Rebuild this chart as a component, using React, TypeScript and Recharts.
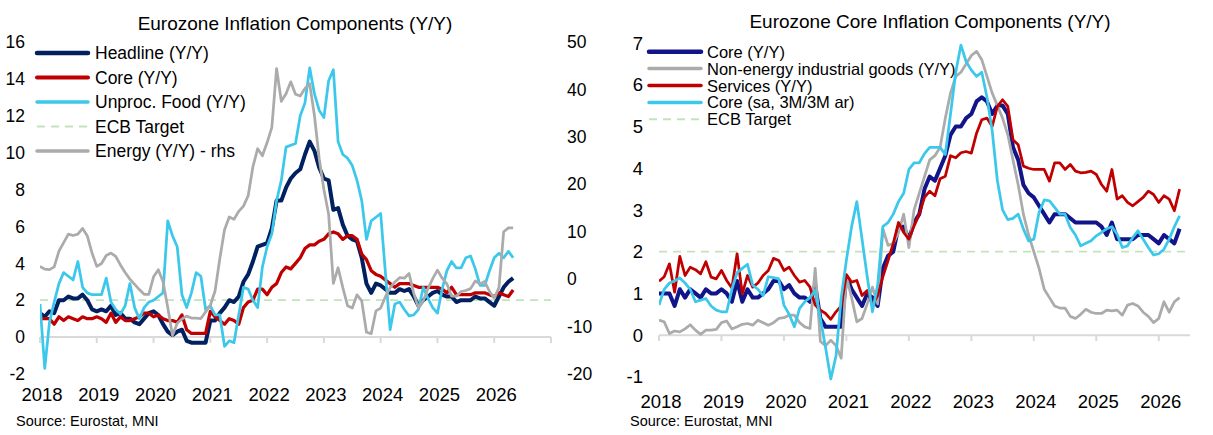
import React from 'react'
import { LineChart, Line, XAxis, YAxis, ReferenceLine, Legend } from 'recharts'

// monthly, Jan 2018 .. May 2026
const headline = [
  1.3, 1.1, 1.4, 1.3, 2.0, 2.0, 2.2, 2.1, 2.1, 2.3, 2.0, 1.5,
  1.4, 1.5, 1.4, 1.7, 1.2, 1.3, 1.0, 1.0, 0.8, 0.7, 1.0, 1.3,
  1.4, 1.2, 0.7, 0.3, 0.1, 0.3, 0.4, -0.2, -0.3, -0.3, -0.3, -0.3,
  0.9, 0.9, 1.3, 1.6, 2.0, 1.9, 2.2, 3.0, 3.4, 4.1, 4.9, 5.0,
  5.1, 5.9, 7.4, 7.4, 8.1, 8.6, 8.9, 9.1, 9.9, 10.6, 10.1, 9.2,
  8.6, 8.5, 6.9, 7.0, 6.1, 5.5, 5.3, 5.2, 4.3, 2.9, 2.4, 2.9,
  2.8, 2.6, 2.4, 2.4, 2.6, 2.5, 2.6, 2.2, 1.7, 2.0, 2.2, 2.4,
  2.5, 2.3, 2.2, 2.2, 1.9, 2.0, 2.0, 2.0, 2.2, 2.1, 2.1, 1.9,
  1.7, 2.2, 2.7, 3.0, 3.2,
]

const core = [
  1.0, 1.0, 1.0, 0.7, 1.1, 0.9, 1.1, 1.0, 0.9, 1.1, 1.0, 1.0,
  1.1, 1.0, 0.8, 1.3, 0.8, 1.1, 0.9, 0.9, 1.0, 1.1, 1.3, 1.3,
  1.1, 1.2, 1.0, 0.9, 0.9, 0.8, 1.2, 0.4, 0.2, 0.2, 0.2, 0.2,
  1.4, 1.1, 0.9, 0.7, 1.0, 0.9, 0.7, 1.6, 1.9, 2.0, 2.6, 2.6,
  2.3, 2.7, 2.9, 3.5, 3.8, 3.7, 4.0, 4.3, 4.8, 5.0, 5.0, 5.2,
  5.3, 5.6, 5.7, 5.6, 5.3, 5.5, 5.5, 5.3, 4.5, 4.2, 3.6, 3.4,
  3.3, 3.1, 2.9, 2.7, 2.9, 2.9, 2.9, 2.8, 2.7, 2.7, 2.7, 2.7,
  2.7, 2.6, 2.4, 2.7, 2.3, 2.3, 2.3, 2.3, 2.4, 2.4, 2.4, 2.3,
  2.2, 2.4, 2.3, 2.2, 2.55,
]

const unprocFood = [
  1.8, -1.7, 0.8, 1.9, 2.9, 3.5, 3.3, 3.1, 4.1, 2.7, 2.4, 2.3,
  2.3, 2.3, 3.2, 1.9, 1.5, 1.25, 1.7, 2.9, 1.6, 1.0, 1.6, 1.9,
  2.0, 2.2, 2.4, 6.3, 5.5, 4.9, 2.3, 1.6, 2.4, 3.5, 3.3, 1.5,
  1.7, 1.2, 1.2, -0.5, -0.2, -0.3, 1.2, 2.7, 2.6, 2.0, 1.6, 3.8,
  4.9, 5.6, 7.4, 8.5, 10.3, 10.4, 10.5, 12.0, 12.7, 14.6, 13.2, 12.3,
  11.9, 13.9, 14.5, 10.6, 9.9, 9.7, 9.3, 8.5, 7.4, 5.3, 6.3, 6.5,
  6.7, 3.5, 0.4, 1.8, 1.9, 1.5, 1.15, 1.2, 1.5, 2.7, 2.1, 1.6,
  1.3, 2.6, 3.6, 4.1, 3.75, 3.75, 4.3, 4.4, 3.7, 2.8, 2.8, 3.6,
  4.3, 4.55, 4.3, 4.65, 4.3,
]

const energy = [
  2.7, 2.1, 2.0, 2.6, 5.9, 7.7, 9.5, 9.2, 9.5, 10.7, 9.1, 5.5,
  2.7, 3.3, 5.0, 5.5, 4.8, 3.0, 1.4, 0.0, -1.1, -2.2, -3.2, -3.2,
  0.5, 2.0, -0.5, -6.0, -11.9, -9.3, -8.4, -7.8, -8.2, -8.2, -8.3, -6.9,
  -5.5, -2.5, 4.3, 10.4, 13.1, 12.6, 14.3, 15.4, 17.6, 23.7, 27.5, 26.0,
  28.8, 32.0, 44.4, 37.5, 39.1, 41.6, 39.0, 38.6, 40.2, 41.2, 34.5, 25.5,
  18.9, 13.7, -0.9, 2.4, -1.8, -5.6, -6.1, -3.3, -4.6, -11.2, -11.5, -6.7,
  -6.1, -3.7, -1.8, -0.6, 0.3, 0.2, 1.2, -3.0, -6.1, -4.6, -2.0, 0.1,
  1.9, 0.2, -1.0, -3.6, -3.6, -2.6, -2.4, -2.0, -0.4, -1.0, -0.5, -2.6,
  -4.0, -1.8, 10.0, 10.8, 10.8,
]

const neig = [
  0.36, 0.32, 0.04, 0.1, 0.08, 0.15, 0.25, 0.12, 0.02, 0.12, 0.12, 0.14,
  0.3, 0.34, 0.15, 0.2, 0.26, 0.28, 0.24, 0.36, 0.3, 0.24, 0.3, 0.4,
  0.42, 0.48, 0.48, 0.3, 0.2, 0.16, 1.6, -0.15, -0.25, -0.12, -0.25, -0.55,
  1.4, 0.9, 0.32, 0.4, 0.75, 1.15, 0.75, 2.55, 2.15, 2.2, 2.45, 2.9,
  2.1, 3.0, 3.4, 3.8, 4.2, 4.3, 4.5, 5.2, 5.8, 6.2, 6.3, 6.5,
  6.7, 6.8, 6.6, 6.2, 5.8, 5.5, 5.2, 4.8, 4.2, 3.6, 2.9, 2.4,
  2.0, 1.6, 1.1, 0.9, 0.7, 0.65, 0.65, 0.45, 0.4, 0.5, 0.62, 0.55,
  0.52, 0.52, 0.6, 0.58, 0.6, 0.48, 0.72, 0.76, 0.7, 0.55, 0.45, 0.3,
  0.4, 0.8, 0.55, 0.8, 0.9,
]

const services = [
  1.29, 1.4, 1.71, 1.03, 1.89, 1.43, 1.63, 1.57, 1.47, 1.76, 1.39, 1.35,
  1.55, 1.31, 1.13, 1.95, 0.99, 1.43, 1.15, 1.25, 1.43, 1.55, 1.84, 1.79,
  1.55, 1.63, 1.43, 1.27, 1.31, 1.15, 0.72, 0.6, 0.52, 0.38, 0.56, 0.7,
  1.45, 1.27, 1.31, 0.95, 1.07, 0.72, 0.95, 1.4, 1.79, 2.2, 2.7, 2.46,
  2.3, 2.62, 2.9, 3.3, 3.45, 3.34, 3.75, 3.81, 4.3, 4.25, 4.37, 4.4,
  4.36, 4.84, 5.16, 5.2, 5.0, 5.48, 5.64, 5.48, 4.68, 4.56, 4.05, 4.0,
  3.97, 3.97, 3.97, 3.69, 4.13, 4.13, 3.97, 4.09, 3.93, 3.89, 3.9, 3.93,
  3.85, 3.61, 3.45, 3.97, 3.26, 3.34, 3.18, 3.1, 3.2, 3.3, 3.45, 3.37,
  3.18, 3.34, 3.26, 2.98, 3.5,
]

const core3m = [
  0.72, 1.1, 1.25, 1.3, 1.37, 1.25, 1.1, 0.8, 0.84, 0.88, 0.7, 0.6,
  0.56, 0.56, 1.1, 1.5, 1.6, 1.7, 1.2, 1.1, 0.95, 1.4, 1.38, 1.35,
  0.72, 0.5, 0.2, 0.64, 0.8, 0.9, 1.07, 0.4, -0.3, -1.05, -0.5, 0.9,
  1.8, 2.6, 3.2, 2.3, 1.4, 0.56, 1.2, 2.6, 2.7, 2.9, 3.2, 3.4,
  3.97, 4.13, 4.13, 4.35, 4.5, 4.5, 4.5, 4.33, 5.3, 6.3, 6.95, 6.55,
  6.35, 6.2, 6.3, 5.7, 4.9, 3.7, 3.0, 2.77, 2.8, 2.9, 2.54, 2.26,
  2.3, 2.94, 3.24, 3.22, 3.06, 2.9, 2.9, 2.58, 2.4, 2.14, 2.2, 2.26,
  2.38, 2.46, 2.55, 2.6, 2.42, 2.1, 2.14, 2.34, 2.5, 2.3, 2.1, 1.92,
  1.95, 2.06, 2.3, 2.6, 2.86,
]

const yearLabels = [2018, 2019, 2020, 2021, 2022, 2023, 2024, 2025, 2026]
const leftTickMarks = [2018, 2019, 2020, 2021, 2022, 2023, 2024, 2025, 2026, 2027]
const leftTicks = [-2, 0, 2, 4, 6, 8, 10, 12, 14, 16]
const rhsTicks = [-20, -10, 0, 10, 20, 30, 40, 50]
const rightTicks = [-1, 0, 1, 2, 3, 4, 5, 6, 7]
const ecbTarget = 2

const FONT = '"Liberation Sans", Arial, sans-serif'
const NAVY = '#002060'
const BLUE = '#12148A'
const RED = '#C00000'
const CYAN = '#3CC8EA'
const GREY = '#ABABAB'
const GREEN = '#C3E3BB'
const AXIS = '#D9D9D9'

const rows = headline.map((_, i) => ({
  t: 2018 + i / 12,
  headline: headline[i],
  core: core[i],
  unprocFood: unprocFood[i],
  energy: energy[i],
  neig: neig[i],
  services: services[i],
  core3m: core3m[i],
}))

type LegendItem = { label: string; color: string; width: number; dashed?: boolean }

const leftLegend: LegendItem[] = [
  { label: 'Headline (Y/Y)', color: NAVY, width: 4.5 },
  { label: 'Core (Y/Y)', color: RED, width: 4 },
  { label: 'Unproc. Food (Y/Y)', color: CYAN, width: 3.5 },
  { label: 'ECB Target', color: GREEN, width: 2, dashed: true },
  { label: 'Energy (Y/Y) - rhs', color: GREY, width: 3.5 },
]

const rightLegend: LegendItem[] = [
  { label: 'Core (Y/Y)', color: BLUE, width: 4.5 },
  { label: 'Non-energy industrial goods (Y/Y)', color: GREY, width: 3.5 },
  { label: 'Services (Y/Y)', color: RED, width: 3.5 },
  { label: 'Core (sa, 3M/3M ar)', color: CYAN, width: 3.5 },
  { label: 'ECB Target', color: GREEN, width: 2, dashed: true },
]

function LegendBox(props: {
  items: LegendItem[]
  width: number
  height: number
  x1: number
  x2: number
  textX: number
  y0: number
  rowH: number
  fontSize: number
}) {
  const { items, width, height, x1, x2, textX, y0, rowH, fontSize } = props
  return (
    <svg width={width} height={height} style={{ display: 'block', overflow: 'visible' }}>
      {items.map((it, i) => {
        const y = y0 + i * rowH
        return (
          <g key={it.label}>
            <line
              x1={x1}
              x2={x2}
              y1={y}
              y2={y}
              stroke={it.color}
              strokeWidth={it.width}
              strokeDasharray={it.dashed ? '8 6' : undefined}
              strokeLinecap={it.dashed ? 'butt' : 'round'}
            />
            <text
              x={textX}
              y={y}
              dominantBaseline="central"
              fontFamily={FONT}
              fontSize={fontSize}
              fill="#000"
            >
              {it.label}
            </text>
          </g>
        )
      })}
    </svg>
  )
}

const titleStyle = (cx: number, top: number): React.CSSProperties => ({
  position: 'absolute',
  left: cx,
  top,
  transform: 'translateX(-50%)',
  whiteSpace: 'nowrap',
  fontFamily: FONT,
  fontSize: 19,
  lineHeight: '22px',
  color: '#000',
  zIndex: 2,
})

const sourceStyle = (left: number): React.CSSProperties => ({
  position: 'absolute',
  left,
  top: 413,
  whiteSpace: 'nowrap',
  fontFamily: FONT,
  fontSize: 14.5,
  lineHeight: '17px',
  color: '#000',
  zIndex: 2,
})

function lineProps(color: string, width: number) {
  return {
    type: 'linear' as const,
    stroke: color,
    strokeWidth: width,
    strokeLinejoin: 'round' as const,
    dot: false,
    activeDot: false,
    isAnimationActive: false,
  }
}

function InflationChart() {
  const tick = { fontSize: 17.5, fill: '#000', fontFamily: FONT }
  return (
    <div style={{ position: 'absolute', left: 0, top: 0, width: 600, height: 435 }}>
      <div style={titleStyle(295, 12.5)}>Eurozone Inflation Components (Y/Y)</div>
      <div style={sourceStyle(16)}>Source: Eurostat, MNI</div>
      <LineChart width={600} height={435} data={rows} margin={{ top: 42, right: 0, bottom: 31, left: 0 }}>
        <XAxis
          dataKey="t"
          type="number"
          domain={[2018, 2027]}
          allowDataOverflow
          ticks={yearLabels}
          interval={0}
          axisLine={false}
          tickLine={false}
          tickSize={0}
          tickMargin={14}
          height={30}
          dx={2}
          tick={{ fontSize: 18.5, fill: '#000', fontFamily: FONT }}
        />
        <YAxis
          yAxisId="l"
          domain={[-2, 16]}
          ticks={leftTicks}
          interval={0}
          width={40}
          axisLine={false}
          tickLine={false}
          tickSize={0}
          tickMargin={15}
          tick={tick}
        />
        <YAxis
          yAxisId="r"
          orientation="right"
          domain={[-20, 50]}
          ticks={rhsTicks}
          interval={0}
          width={49}
          axisLine={false}
          tickLine={false}
          tickSize={0}
          tickMargin={16}
          tick={tick}
        />
        <ReferenceLine yAxisId="l" y={0} stroke={AXIS} strokeWidth={2} />
        {leftTickMarks.map((yr) => (
          <ReferenceLine
            key={yr}
            yAxisId="l"
            segment={[{ x: yr, y: 0 }, { x: yr, y: -0.32 }]}
            stroke={AXIS}
            strokeWidth={2}
          />
        ))}
        <ReferenceLine yAxisId="l" y={ecbTarget} stroke={GREEN} strokeWidth={1.75} strokeDasharray="8 6" />
        <Line yAxisId="l" dataKey="headline" {...lineProps(NAVY, 4)} />
        <Line yAxisId="l" dataKey="core" {...lineProps(RED, 3.25)} />
        <Line yAxisId="l" dataKey="unprocFood" {...lineProps(CYAN, 2.75)} />
        <Line yAxisId="r" dataKey="energy" {...lineProps(GREY, 2.75)} />
        <Legend
          layout="vertical"
          align="center"
          verticalAlign="middle"
          width={270}
          height={130}
          wrapperStyle={{ left: 30, top: 40, width: 270, height: 130 }}
          content={() => (
            <LegendBox
              items={leftLegend}
              width={270}
              height={130}
              x1={7}
              x2={58}
              textX={65}
              y0={13}
              rowH={24.5}
              fontSize={17.5}
            />
          )}
        />
      </LineChart>
    </div>
  )
}

function CoreChart() {
  const tick = { fontSize: 18.5, fill: '#000', fontFamily: FONT }
  return (
    <div style={{ position: 'absolute', left: 600, top: 0, width: 613, height: 435 }}>
      <div style={titleStyle(330, 11)}>Eurozone Core Inflation Components (Y/Y)</div>
      <div style={sourceStyle(30)}>Source: Eurostat, MNI</div>
      <LineChart width={613} height={435} data={rows} margin={{ top: 43, right: 23, bottom: 26, left: 0 }}>
        <XAxis
          dataKey="t"
          type="number"
          domain={[2018, 2026.5]}
          allowDataOverflow
          ticks={yearLabels}
          interval={0}
          axisLine={false}
          tickLine={false}
          tickSize={0}
          tickMargin={16}
          height={30}
          dx={2}
          tick={{ fontSize: 18.5, fill: '#000', fontFamily: FONT }}
        />
        <YAxis
          domain={[-1, 7]}
          ticks={rightTicks}
          interval={0}
          width={59}
          axisLine={false}
          tickLine={false}
          tickSize={0}
          tickMargin={16}
          tick={tick}
        />
        <ReferenceLine y={0} stroke={AXIS} strokeWidth={2} />
        {yearLabels.map((yr) => (
          <ReferenceLine
            key={yr}
            segment={[{ x: yr, y: 0 }, { x: yr, y: -0.14 }]}
            stroke={AXIS}
            strokeWidth={2}
          />
        ))}
        <ReferenceLine y={ecbTarget} stroke={GREEN} strokeWidth={1.75} strokeDasharray="8 6" />
        <Line dataKey="core" {...lineProps(BLUE, 4)} />
        <Line dataKey="neig" {...lineProps(GREY, 2.75)} />
        <Line dataKey="services" {...lineProps(RED, 2.75)} />
        <Line dataKey="core3m" {...lineProps(CYAN, 2.75)} />
        <Legend
          layout="vertical"
          align="center"
          verticalAlign="middle"
          width={320}
          height={100}
          wrapperStyle={{ left: 40, top: 40, width: 320, height: 100 }}
          content={() => (
            <LegendBox
              items={rightLegend}
              width={320}
              height={100}
              x1={9}
              x2={61}
              textX={67}
              y0={11.7}
              rowH={16.9}
              fontSize={16.5}
            />
          )}
        />
      </LineChart>
    </div>
  )
}

export default function App() {
  return (
    <div
      style={{
        position: 'absolute',
        left: 0,
        top: 0,
        width: 1213,
        height: 435,
        background: '#fff',
        overflow: 'hidden',
      }}
    >
      <InflationChart />
      <CoreChart />
    </div>
  )
}
